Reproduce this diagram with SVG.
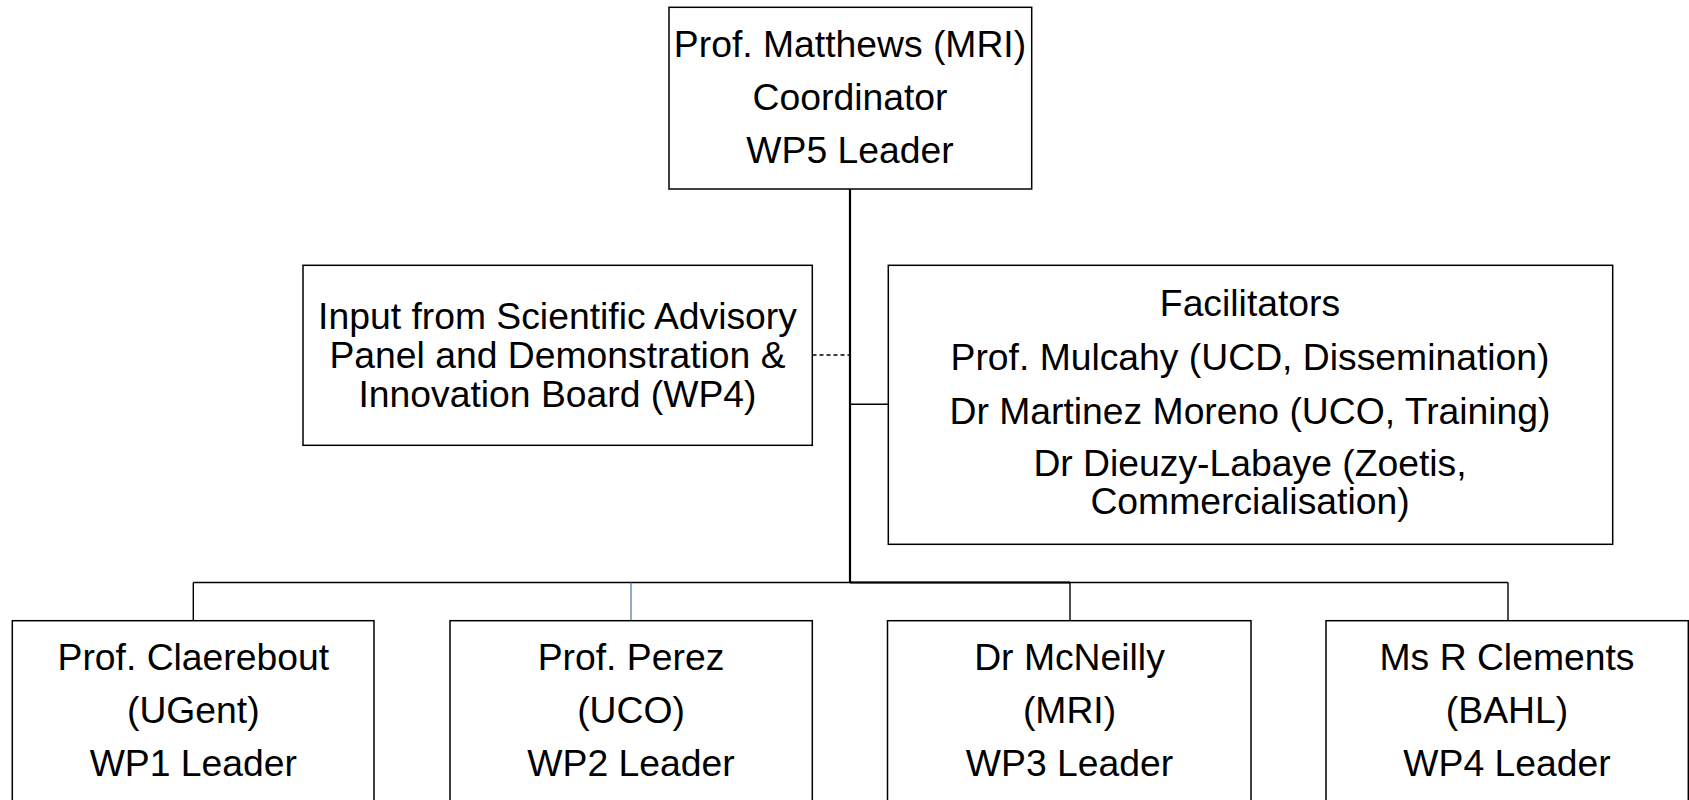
<svg xmlns="http://www.w3.org/2000/svg" width="1689" height="800" viewBox="0 0 1689 800">
<style>
  .box { fill: #ffffff; stroke: #000000; stroke-width: 1.5; }
  .t { font-family: "Liberation Sans", Arial, sans-serif; font-size: 37.3px; fill: #000000; text-anchor: middle; }
  .ln { fill: none; stroke: #000000; stroke-width: 1.4; }
</style>
<rect x="0" y="0" width="1689" height="800" fill="#ffffff"/>
<g id="connectors">
  <path class="ln" d="M850 189 V582.5" style="stroke-width:2.2"/>
  <path class="ln" d="M812.5 355 H849" stroke-dasharray="4 3"/>
  <path class="ln" d="M850 404.3 H888.3"/>
  <path class="ln" d="M193.3 582.5 H1508"/>
  <path class="ln" d="M850 582.5 H1070" style="stroke-width:2"/>
  <path class="ln" d="M193.3 582.5 V620.7"/>
  <path class="ln" d="M631 582.5 V620.7" style="stroke:#4a72a8;stroke-width:1.2"/>
  <path class="ln" d="M1070 582.5 V620.7"/>
  <path class="ln" d="M1508 582.5 V620.7"/>
</g>
<g id="coordinator">
  <rect class="box" x="669" y="7.3" width="362.7" height="181.7"/>
  <text class="t" x="850" y="57">Prof. Matthews (MRI)</text>
  <text class="t" x="850" y="110">Coordinator</text>
  <text class="t" x="850" y="163.3">WP5 Leader</text>
</g>
<g id="advisory">
  <rect class="box" x="303" y="265.3" width="509.3" height="180"/>
  <text class="t" x="557.5" y="329">Input from Scientific Advisory</text>
  <text class="t" x="557.5" y="368">Panel and Demonstration &amp;</text>
  <text class="t" x="557.5" y="406.5">Innovation Board (WP4)</text>
</g>
<g id="facilitators">
  <rect class="box" x="888.3" y="265.3" width="724.4" height="279"/>
  <text class="t" x="1250" y="315.5">Facilitators</text>
  <text class="t" x="1250" y="369.5">Prof. Mulcahy (UCD, Dissemination)</text>
  <text class="t" x="1250" y="423.5">Dr Martinez Moreno (UCO, Training)</text>
  <text class="t" x="1250" y="476">Dr Dieuzy-Labaye (Zoetis,</text>
  <text class="t" x="1250" y="513.5">Commercialisation)</text>
</g>
<g id="wp1">
  <rect class="box" x="12.3" y="620.7" width="361.7" height="200"/>
  <text class="t" x="193.3" y="669.5">Prof. Claerebout</text>
  <text class="t" x="193.3" y="723">(UGent)</text>
  <text class="t" x="193.3" y="776">WP1 Leader</text>
</g>
<g id="wp2">
  <rect class="box" x="450" y="620.7" width="362.3" height="200"/>
  <text class="t" x="631" y="669.5">Prof. Perez</text>
  <text class="t" x="631" y="723">(UCO)</text>
  <text class="t" x="631" y="776">WP2 Leader</text>
</g>
<g id="wp3">
  <rect class="box" x="887.5" y="620.7" width="363.5" height="200"/>
  <text class="t" x="1069.5" y="669.5">Dr McNeilly</text>
  <text class="t" x="1069.5" y="723">(MRI)</text>
  <text class="t" x="1069.5" y="776">WP3 Leader</text>
</g>
<g id="wp4">
  <rect class="box" x="1326" y="620.7" width="362.3" height="200"/>
  <text class="t" x="1507" y="669.5">Ms R Clements</text>
  <text class="t" x="1507" y="723">(BAHL)</text>
  <text class="t" x="1507" y="776">WP4 Leader</text>
</g>
</svg>
